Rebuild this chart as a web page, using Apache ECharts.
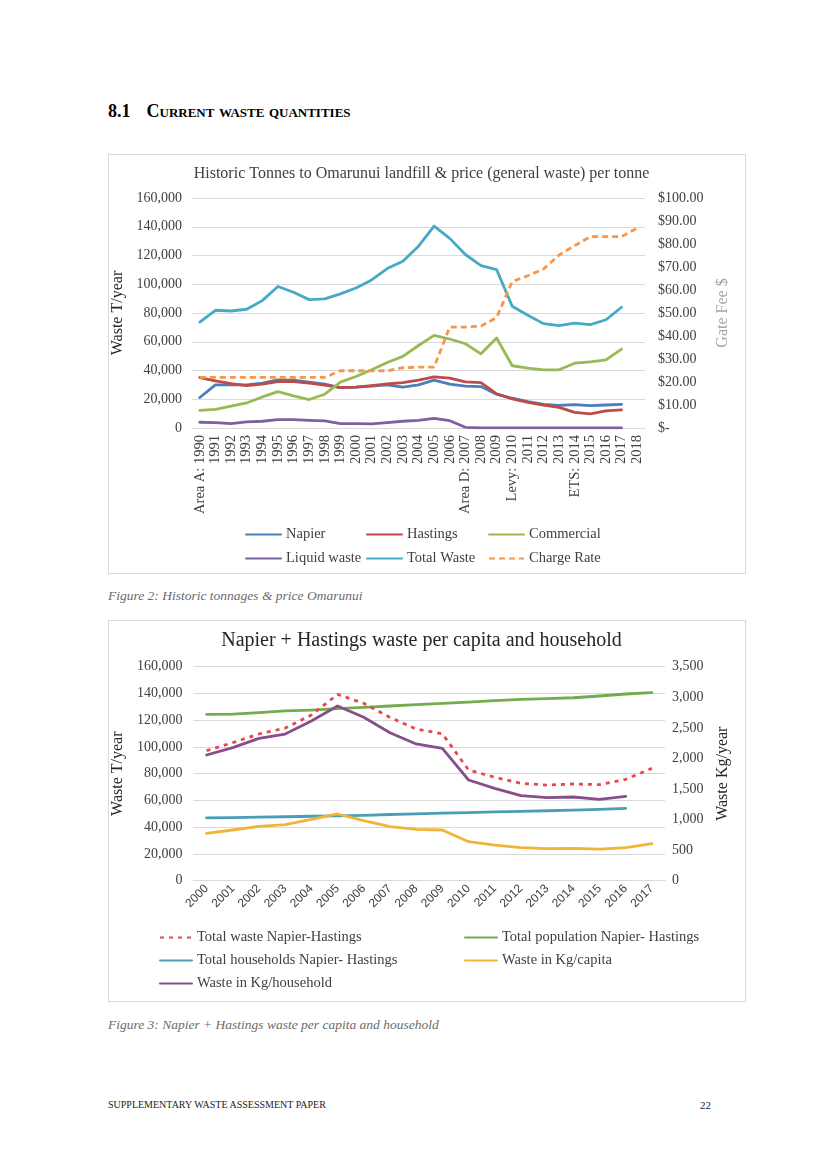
<!DOCTYPE html>
<html>
<head>
<meta charset="utf-8">
<script src="https://cdn.jsdelivr.net/npm/echarts@6/dist/echarts.min.js"></script>
<style>
  html, body { margin:0; padding:0; background:#fff; }
  #page { position:relative; width:821px; height:1160px; background:#fff; font-family:"Liberation Serif","Times New Roman",serif; }
  .frame { position:absolute; border:1px solid #d9d9d9; box-sizing:border-box; }
  .chart { position:absolute; }
  .heading { position:absolute; left:108px; top:101px; font-weight:bold; font-size:18px; color:#000; white-space:nowrap; }
  .heading .sc { font-variant:small-caps; margin-left:16px; }
  .caption { position:absolute; left:108px; font-style:italic; font-size:13.5px; color:#6b6b6b; white-space:nowrap; }
  .footer { position:absolute; top:1099px; font-size:10px; color:#222; white-space:nowrap; }
</style>
</head>
<body>
<div id="page">
  <div class="heading">8.1<span class="sc">Current waste quantities</span></div>
  <div class="frame" style="left:108px;top:154px;width:638px;height:420px;"></div>
  <div id="c1" class="chart" style="left:97px;top:154px;width:649px;height:420px;"></div>
  <div class="caption" style="top:588px;">Figure 2: Historic tonnages &amp; price Omarunui</div>
  <div class="frame" style="left:108px;top:620px;width:638px;height:382px;"></div>
  <div id="c2" class="chart" style="left:97px;top:620px;width:649px;height:382px;"></div>
  <div class="caption" style="top:1017px;">Figure 3: Napier + Hastings waste per capita and household</div>
  <div class="footer" style="left:108px;">SUPPLEMENTARY WASTE ASSESSMENT PAPER</div>
  <div class="footer" style="left:700px;font-size:11px;">22</div>
</div>
<script>
// ---------- Chart 1 data ----------
const years1 = ['Area A: 1990','1991','1992','1993','1994','1995','1996','1997','1998','1999','2000','2001','2002','2003','2004','2005','2006','Area D: 2007','2008','2009','Levy: 2010','2011','2012','2013','ETS: 2014','2015','2016','2017','2018'];
const napier     = [21200,30000,30000,30000,31200,33500,33300,31900,30500,28100,28400,29100,30000,28400,30000,33300,30500,29100,28800,23500,20700,18400,16500,15800,16300,15600,16000,16500,null];
const hastings   = [35100,32800,30900,29500,30500,32300,32300,31200,29800,28100,28400,29500,30700,31600,33300,35600,34700,32100,31600,23700,20200,17900,16000,14400,10900,9800,11900,12600,null];
const commercial = [12300,13000,15300,17400,21600,25300,22300,19800,23500,31900,35800,40500,45600,49800,57400,64400,61900,58600,51600,62600,43300,41600,40500,40500,45100,46000,47400,54900,null];
const liquidWaste= [4000,3700,3000,4200,4700,5800,5800,5300,4900,3000,3000,2800,3700,4700,5300,6700,5100,500,100,100,100,100,100,100,100,100,100,100,null];
const totalWaste = [73700,81900,81400,82600,88600,98400,94400,89300,89800,93300,97400,103000,110900,116000,126500,140500,131900,120700,113000,110200,84700,78400,72600,71200,73000,71900,75300,84000,null];
const chargeRate = [22,22,22,22,22,22,22,22,22,24.9,24.9,24.9,24.9,26.2,26.5,26.5,43.9,43.9,44.3,48,63.7,66.2,69.1,75.2,79.3,83.2,83.2,83.2,86.9];

// ---------- Chart 2 data ----------
const years2 = ['2000','2001','2002','2003','2004','2005','2006','2007','2008','2009','2010','2011','2012','2013','2014','2015','2016','2017'];
const totalWasteNH  = [97200,103200,109700,114100,123900,139300,132600,122100,113400,109900,82800,77300,72800,71500,72300,71800,75800,84000];
const population    = [124400,124500,125600,126900,127600,128600,129600,130600,131600,132600,133500,134600,135600,136100,136800,138100,139600,140600];
const households    = [46900,47200,47500,47800,48200,48500,48900,49500,50000,50500,50900,51400,51800,52300,52800,53300,54000,null];
const kgPerCapita   = [774,829,889,916,1003,1091,981,883,840,829,638,583,540,523,529,518,540,605];
const kgPerHousehold= [2056,2176,2328,2399,2612,2857,2672,2421,2236,2165,1647,1510,1390,1358,1369,1330,1380,null];

const SERIF = '"Liberation Serif","Times New Roman",serif';
const SANS = '"Liberation Sans",Arial,sans-serif';

function lineSeries(name, data, color, yIdx, extra) {
  return Object.assign({
    name, type:'line', data, yAxisIndex:yIdx, symbol:'none', connectNulls:false,
    lineStyle:{ color, width:2.8, cap:'round', join:'round' }, itemStyle:{ color }
  }, extra || {});
}
function legendItem(name, left, top, w) {
  return { data:[name], left, top, itemWidth:w, itemHeight:12, selectedMode:false,
           itemStyle:{ opacity:0 },
           textStyle:{ fontFamily:SERIF, fontSize:14.5, color:'#404040' }, padding:0 };
}

// ---------- Chart 1 ----------
const c1 = echarts.init(document.getElementById('c1'));
c1.setOption({
  animation:false,
  textStyle:{ fontFamily:SERIF },
  title:{ text:'Historic Tonnes to Omarunui landfill & price (general waste) per tonne', left:'center', top:7,
          textStyle:{ fontFamily:SERIF, fontSize:16, fontWeight:'normal', color:'#404040' } },
  grid:{ left:95, right:101, top:44, bottom:146 },
  legend:[
    legendItem('Napier',148,373,35), legendItem('Hastings',269,373,35), legendItem('Commercial',391,373,35),
    legendItem('Liquid waste',148,397,35), legendItem('Total Waste',269,397,35), legendItem('Charge Rate',391,397,35)
  ],
  xAxis:{ type:'category', data:years1, boundaryGap:true,
          axisLine:{ lineStyle:{ color:'#d9d9d9' } }, axisTick:{ show:false },
          axisLabel:{ interval:0, rotate:90, fontFamily:SERIF, fontSize:14.5, color:'#404040', margin:7 } },
  yAxis:[
    { type:'value', min:0, max:160000, interval:20000,
      name:'Waste T/year', nameLocation:'middle', nameRotate:90, nameGap:58,
      nameTextStyle:{ fontFamily:SERIF, fontSize:16, color:'#262626' },
      axisLine:{ show:false }, axisTick:{ show:false },
      axisLabel:{ fontFamily:SERIF, fontSize:14, color:'#404040', margin:10 },
      splitLine:{ lineStyle:{ color:'#d9d9d9' } } },
    { type:'value', min:0, max:100, interval:10, position:'right',
      name:'Gate Fee $', nameLocation:'middle', nameRotate:90, nameGap:69,
      nameTextStyle:{ fontFamily:SERIF, fontSize:16, color:'#a6a6a6' },
      axisLine:{ show:false }, axisTick:{ show:false }, splitLine:{ show:false },
      axisLabel:{ fontFamily:SERIF, fontSize:14, color:'#404040', margin:13, align:'left',
                  formatter:v => v === 0 ? '$-' : '$' + v.toFixed(2) } }
  ],
  series:[
    lineSeries('Napier', napier, '#4A7EBB', 0),
    lineSeries('Hastings', hastings, '#BE4B48', 0),
    lineSeries('Commercial', commercial, '#98B954', 0),
    lineSeries('Liquid waste', liquidWaste, '#7D60A0', 0),
    lineSeries('Total Waste', totalWaste, '#46AAC5', 0),
    lineSeries('Charge Rate', chargeRate, '#F79646', 1, { lineStyle:{ color:'#F79646', width:2.8, type:[6,4] } })
  ]
});

// ---------- Chart 2 ----------
const c2 = echarts.init(document.getElementById('c2'));
c2.setOption({
  animation:false,
  textStyle:{ fontFamily:SERIF },
  title:{ text:'Napier + Hastings waste per capita and household', left:'center', top:6,
          textStyle:{ fontFamily:SERIF, fontSize:20, fontWeight:'normal', color:'#262626' } },
  grid:{ left:96.5, right:81, top:46.7, bottom:121.3 },
  legend:[
    legendItem('Total waste Napier-Hastings',62,310,32), legendItem('Total population Napier- Hastings',367,310,32),
    legendItem('Total households Napier- Hastings',62,333,32), legendItem('Waste in Kg/capita',367,333,32),
    legendItem('Waste in Kg/household',62,356,32)
  ],
  xAxis:{ type:'category', data:years2, boundaryGap:true,
          axisLine:{ lineStyle:{ color:'#d9d9d9' } }, axisTick:{ show:false },
          axisLabel:{ interval:0, rotate:45, fontFamily:SANS, fontSize:12, color:'#404040', margin:6 } },
  yAxis:[
    { type:'value', min:0, max:160000, interval:20000,
      name:'Waste T/year', nameLocation:'middle', nameRotate:90, nameGap:59,
      nameTextStyle:{ fontFamily:SERIF, fontSize:16, color:'#262626' },
      axisLine:{ show:false }, axisTick:{ show:false },
      axisLabel:{ fontFamily:SERIF, fontSize:14, color:'#404040', margin:11 },
      splitLine:{ lineStyle:{ color:'#d9d9d9' } } },
    { type:'value', min:0, max:3500, interval:500, position:'right',
      name:'Waste Kg/year', nameLocation:'middle', nameRotate:90, nameGap:49,
      nameTextStyle:{ fontFamily:SERIF, fontSize:16, color:'#262626' },
      axisLine:{ show:false }, axisTick:{ show:false }, splitLine:{ show:false },
      axisLabel:{ fontFamily:SERIF, fontSize:14, color:'#404040', margin:7, align:'left' } }
  ],
  series:[
    lineSeries('Total waste Napier-Hastings', totalWasteNH, '#E8474E', 0, { lineStyle:{ color:'#E8474E', width:2.8, type:[4,5] }, z:5 }),
    lineSeries('Total population Napier- Hastings', population, '#72AC4D', 0),
    lineSeries('Total households Napier- Hastings', households, '#4A9FB7', 0),
    lineSeries('Waste in Kg/capita', kgPerCapita, '#EEB53A', 1),
    lineSeries('Waste in Kg/household', kgPerHousehold, '#874F8A', 1)
  ]
});
</script>
</body>
</html>
